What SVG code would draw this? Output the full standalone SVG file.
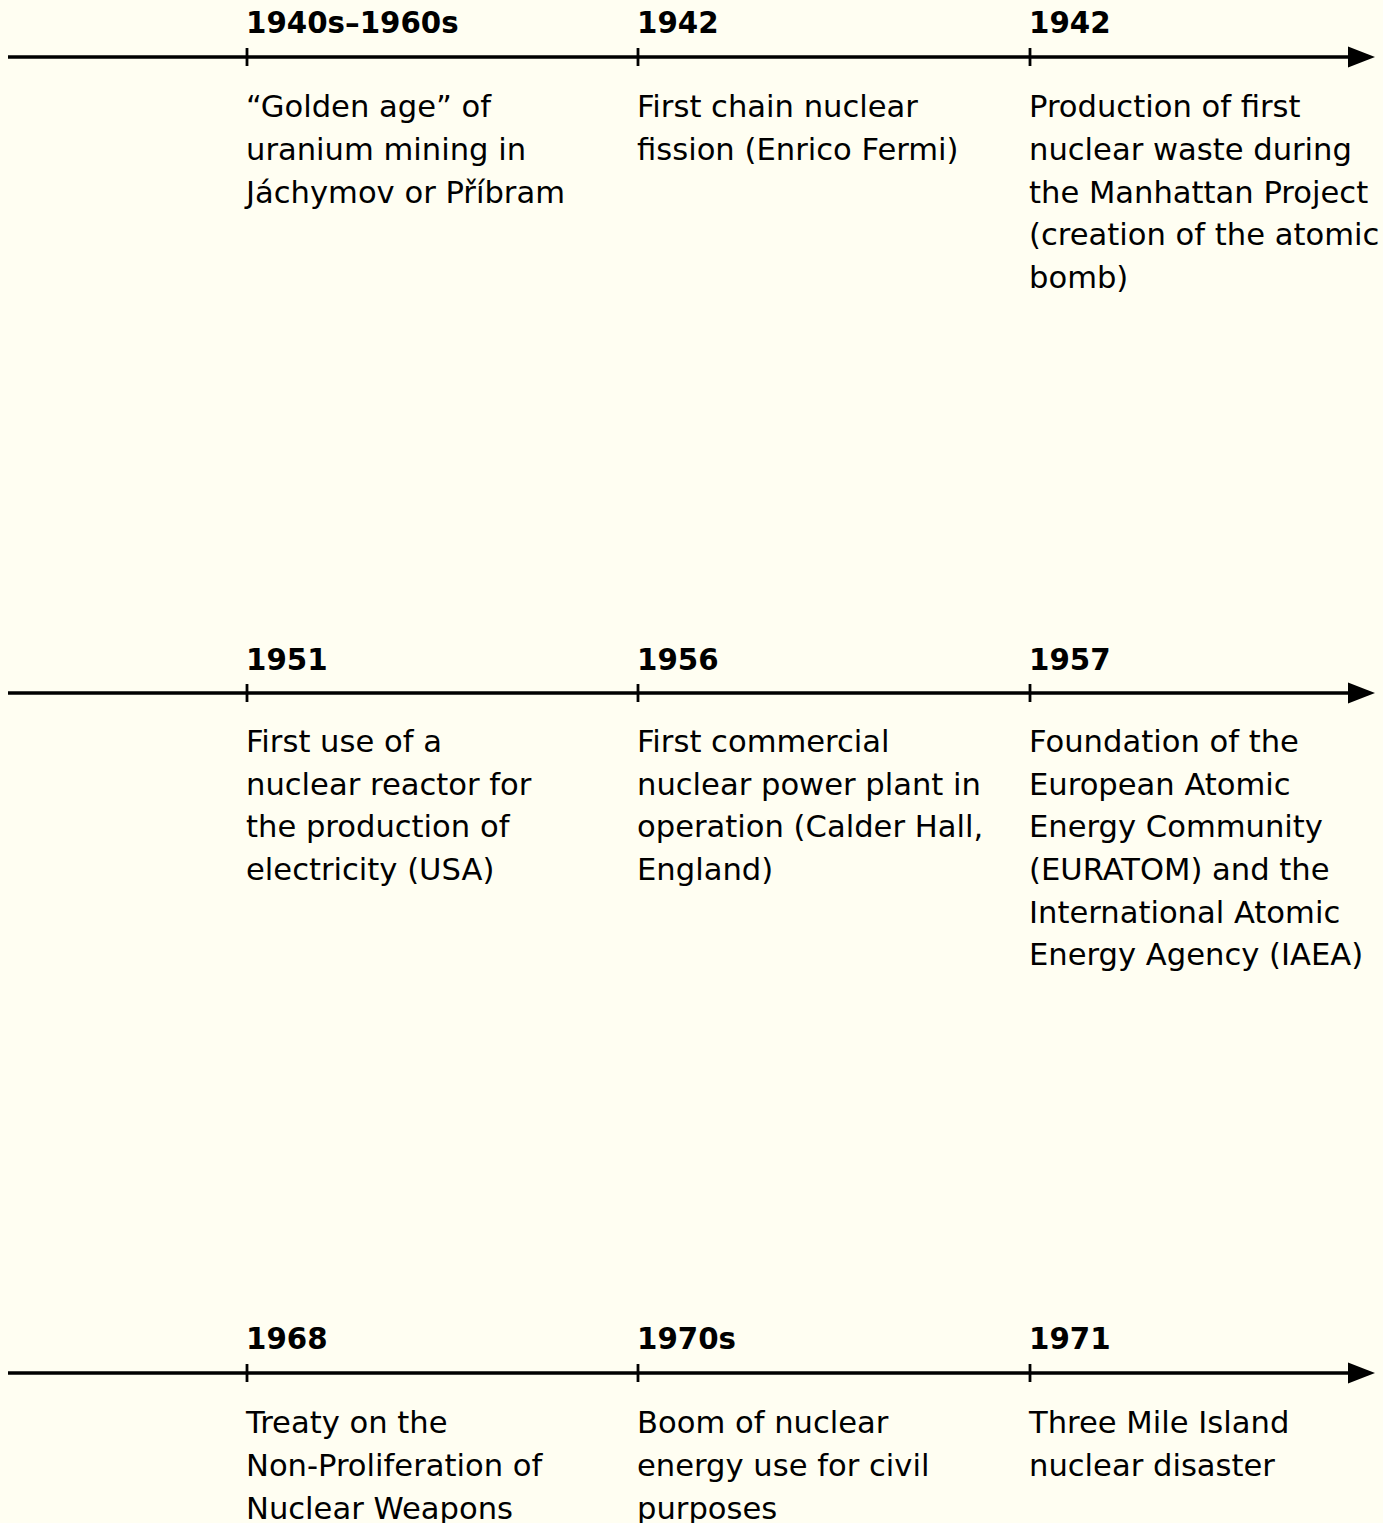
<svg xmlns="http://www.w3.org/2000/svg" width="1383" height="1523" viewBox="0 0 1383 1523">
<style>
.date{font-family:"DejaVu Sans",sans-serif;font-weight:bold;font-size:29.3px;fill:#000}
.body{font-family:"DejaVu Sans",sans-serif;font-size:30.6px;fill:#000}
.axis{stroke:#000;stroke-width:3.6;fill:none}
.tick{stroke:#000;stroke-width:2.8}
</style>
<defs>
<marker id="arrow" markerUnits="userSpaceOnUse" markerWidth="28" markerHeight="22" refX="2" refY="11" orient="auto">
<path d="M0,0.5 L27,11 L0,21.5 Z" fill="#000"/>
</marker>
</defs>
<rect width="1383" height="1523" fill="#fffef2"/>
<g id="connectors">
<line class="axis" x1="8" y1="57" x2="1350" y2="57" marker-end="url(#arrow)"/>
<line class="axis" x1="8" y1="693" x2="1350" y2="693" marker-end="url(#arrow)"/>
<line class="axis" x1="8" y1="1373" x2="1350" y2="1373" marker-end="url(#arrow)"/>
<line class="tick" x1="247" y1="48" x2="247" y2="66"/>
<line class="tick" x1="638" y1="48" x2="638" y2="66"/>
<line class="tick" x1="1030" y1="48" x2="1030" y2="66"/>
<line class="tick" x1="247" y1="684" x2="247" y2="702"/>
<line class="tick" x1="638" y1="684" x2="638" y2="702"/>
<line class="tick" x1="1030" y1="684" x2="1030" y2="702"/>
<line class="tick" x1="247" y1="1364" x2="247" y2="1382"/>
<line class="tick" x1="638" y1="1364" x2="638" y2="1382"/>
<line class="tick" x1="1030" y1="1364" x2="1030" y2="1382"/>
</g>
<g id="e1">
<text class="date" x="246" y="33">1940s–1960s</text>
<text class="body" x="246" y="117"><tspan x="246">“Golden age” of</tspan><tspan x="246" y="160">uranium mining in</tspan><tspan x="246" y="203">Jáchymov or Příbram</tspan></text>
</g>
<g id="e2">
<text class="date" x="637" y="33">1942</text>
<text class="body" x="637" y="117"><tspan x="637">First chain nuclear</tspan><tspan x="637" y="160">fission (Enrico Fermi)</tspan></text>
</g>
<g id="e3">
<text class="date" x="1029" y="33">1942</text>
<text class="body" x="1029" y="117"><tspan x="1029">Production of first</tspan><tspan x="1029" y="160">nuclear waste during</tspan><tspan x="1029" y="203">the Manhattan Project</tspan><tspan x="1029" y="245">(creation of the atomic</tspan><tspan x="1029" y="288">bomb)</tspan></text>
</g>
<g id="e4">
<text class="date" x="246" y="670">1951</text>
<text class="body" x="246" y="752"><tspan x="246">First use of a</tspan><tspan x="246" y="795">nuclear reactor for</tspan><tspan x="246" y="837">the production of</tspan><tspan x="246" y="880">electricity (USA)</tspan></text>
</g>
<g id="e5">
<text class="date" x="637" y="670">1956</text>
<text class="body" x="637" y="752"><tspan x="637">First commercial</tspan><tspan x="637" y="795">nuclear power plant in</tspan><tspan x="637" y="837">operation (Calder Hall,</tspan><tspan x="637" y="880">England)</tspan></text>
</g>
<g id="e6">
<text class="date" x="1029" y="670">1957</text>
<text class="body" x="1029" y="752"><tspan x="1029">Foundation of the</tspan><tspan x="1029" y="795">European Atomic</tspan><tspan x="1029" y="837">Energy Community</tspan><tspan x="1029" y="880">(EURATOM) and the</tspan><tspan x="1029" y="923">International Atomic</tspan><tspan x="1029" y="965">Energy Agency (IAEA)</tspan></text>
</g>
<g id="e7">
<text class="date" x="246" y="1349">1968</text>
<text class="body" x="246" y="1433"><tspan x="246">Treaty on the</tspan><tspan x="246" y="1476">Non-Proliferation of</tspan><tspan x="246" y="1519">Nuclear Weapons</tspan></text>
</g>
<g id="e8">
<text class="date" x="637" y="1349">1970s</text>
<text class="body" x="637" y="1433"><tspan x="637">Boom of nuclear</tspan><tspan x="637" y="1476">energy use for civil</tspan><tspan x="637" y="1519">purposes</tspan></text>
</g>
<g id="e9">
<text class="date" x="1029" y="1349">1971</text>
<text class="body" x="1029" y="1433"><tspan x="1029">Three Mile Island</tspan><tspan x="1029" y="1476">nuclear disaster</tspan></text>
</g>
</svg>
